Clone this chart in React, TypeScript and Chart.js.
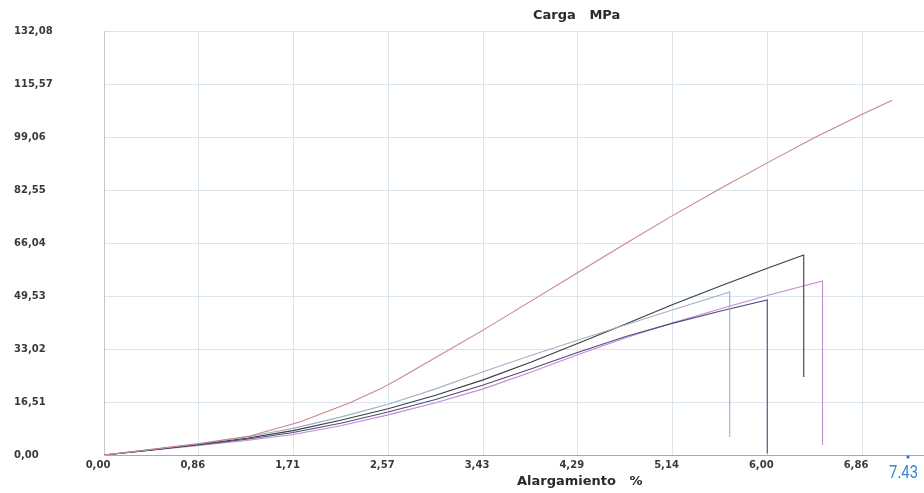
import React, { useEffect, useRef } from 'react';
import { Chart, registerables } from 'chart.js';

Chart.register(...registerables);

// Axis tick values
const xTickValues = [0, 0.857143, 1.714286, 2.571429, 3.428571, 4.285714, 5.142857, 6.0, 6.857143];
const yTickValues = [0, 16.51, 33.02, 49.53, 66.04, 82.55, 99.06, 115.57, 132.08];

// Series (Alargamiento %, Carga MPa)
const redX = [0, 0.43, 0.86, 1.32, 1.77, 2.22, 2.5, 2.68, 3.0, 3.43, 3.85, 4.28, 4.7, 5.12, 5.56, 6.0, 6.43, 6.85, 7.13];
const redY = [0, 1.8, 3.6, 5.9, 10.3, 16.2, 20.6, 24.0, 30.4, 38.9, 47.7, 56.7, 65.5, 74.1, 82.7, 91.0, 98.9, 106.0, 110.5];

const blackX = [0, 0.43, 0.86, 1.29, 1.71, 2.14, 2.57, 3.0, 3.43, 3.86, 4.29, 4.72, 5.14, 5.57, 6.0, 6.33, 6.33];
const blackY = [0, 1.6, 3.3, 5.2, 7.6, 10.8, 14.4, 18.6, 23.4, 28.9, 34.8, 40.8, 46.8, 52.6, 58.2, 62.3, 24.3];

const lightX = [0, 0.43, 0.86, 1.29, 1.71, 2.14, 2.57, 3.0, 3.43, 3.86, 4.29, 4.72, 5.14, 5.66, 5.66];
const lightY = [0, 1.7, 3.5, 5.6, 8.3, 11.8, 15.8, 20.6, 25.9, 31.0, 35.8, 40.6, 45.2, 50.8, 5.6];

const navyX = [0, 0.43, 0.86, 1.29, 1.71, 2.14, 2.57, 3.0, 3.43, 3.86, 4.29, 4.72, 5.14, 5.57, 6.0, 6.0];
const navyY = [0, 1.6, 3.2, 4.9, 7.0, 9.9, 13.4, 17.3, 21.8, 26.8, 32.0, 36.9, 41.0, 44.8, 48.3, 0.5];

const magentaX = [0, 0.43, 0.86, 1.29, 1.71, 2.14, 2.57, 3.0, 3.43, 3.86, 4.29, 4.72, 5.14, 5.57, 6.0, 6.5, 6.5];
const magentaY = [0, 1.5, 3.0, 4.5, 6.4, 9.1, 12.5, 16.3, 20.6, 25.8, 31.3, 36.5, 41.1, 45.5, 49.7, 54.2, 3.1];

const titleText = 'Carga   MPa';
const xTitleText = 'Alargamiento   %';
const cursorLabel = '7.43';

const pts = (xs: number[], ys: number[]) => xs.map((x, i) => ({ x, y: ys[i] }));
const fmt = (v: number) => v.toFixed(2).replace('.', ',');

export default function App() {
  const ref = useRef<HTMLCanvasElement | null>(null);

  useEffect(() => {
    if (!ref.current) return;
    const textPlugin = {
      id: 'extraText',
      afterDraw(chart: any) {
        const ctx = chart.ctx as CanvasRenderingContext2D;
        ctx.save();
        ctx.fillStyle = '#2a2a2a';
        ctx.font = 'bold 13px "DejaVu Sans"';
        ctx.textAlign = 'left';
        ctx.textBaseline = 'middle';
        ctx.fillText(titleText, 533, 16);
        ctx.fillText(xTitleText, 517, 482);
        // cursor marker (viewer overlay)
        const cx = 908;
        ctx.fillStyle = '#2f6fd0';
        ctx.beginPath();
        ctx.arc(cx, 457, 1.6, 0, Math.PI * 2);
        ctx.fill();
        ctx.fillStyle = '#3a86d8';
        ctx.translate(cx + 10, 473);
        ctx.scale(0.78, 1);
        ctx.font = '19px Roboto';
        ctx.textAlign = 'right';
        ctx.fillText(cursorLabel, 0, 0);
        ctx.restore();
      },
    };

    const ds = (label: string, xs: number[], ys: number[], color: string) => ({
      label,
      data: pts(xs, ys),
      borderColor: color,
      backgroundColor: color,
      borderWidth: 1.1,
      pointRadius: 0,
      tension: 0,
      fill: false,
    });

    const chart = new Chart(ref.current, {
      type: 'line',
      data: {
        datasets: [
          ds('Probeta 1', redX, redY, '#c7868c'),
          ds('Probeta 2', lightX, lightY, '#9db2c6'),
          ds('Probeta 3', blackX, blackY, '#3c3c3c'),
          ds('Probeta 4', navyX, navyY, '#4c4c7c'),
          ds('Probeta 5', magentaX, magentaY, '#c48ad6'),
        ] as any,
      },
      options: {
        animation: false,
        responsive: false,
        devicePixelRatio: 1,
        layout: { padding: { left: 14, top: 31, right: 0, bottom: 0 } },
        plugins: {
          legend: { display: false },
          tooltip: { enabled: false },
          title: { display: false },
        },
        scales: {
          x: {
            type: 'linear',
            min: 0,
            max: 7.418,
            afterFit: (s: any) => { s.height = 38; },
            afterBuildTicks: (s: any) => { s.ticks = xTickValues.map((v) => ({ value: v })); },
            grid: { color: '#dbe4ec', drawTicks: false, lineWidth: 1 },
            border: { display: true, color: '#a9a9a9', width: 1 },
            ticks: {
              autoSkip: false,
              maxRotation: 0,
              padding: 4,
              labelOffset: -6,
              color: '#3a3a3a',
              font: { family: '"DejaVu Sans"', weight: 'bold', size: 10 },
              callback: (v: any) => fmt(Number(v)),
            },
          },
          y: {
            type: 'linear',
            min: 0,
            max: 132.08,
            afterFit: (s: any) => { s.width = 90; },
            afterBuildTicks: (s: any) => { s.ticks = yTickValues.map((v) => ({ value: v })); },
            grid: { color: '#dbe4ec', drawTicks: false, lineWidth: 1 },
            border: { display: true, color: '#c4c8cc', width: 1 },
            ticks: {
              autoSkip: false,
              crossAlign: 'far',
              padding: 0,
              color: '#3a3a3a',
              font: { family: '"DejaVu Sans"', weight: 'bold', size: 10 },
              callback: (v: any) => fmt(Number(v)),
            },
          },
        },
      } as any,
      plugins: [textPlugin],
    });
    return () => chart.destroy();
  }, []);

  return (
    <div style={{ position: 'absolute', left: 0, top: 0, width: 924, height: 493, background: '#ffffff' }}>
      <canvas ref={ref} width={924} height={493} style={{ display: 'block' }} />
    </div>
  );
}
